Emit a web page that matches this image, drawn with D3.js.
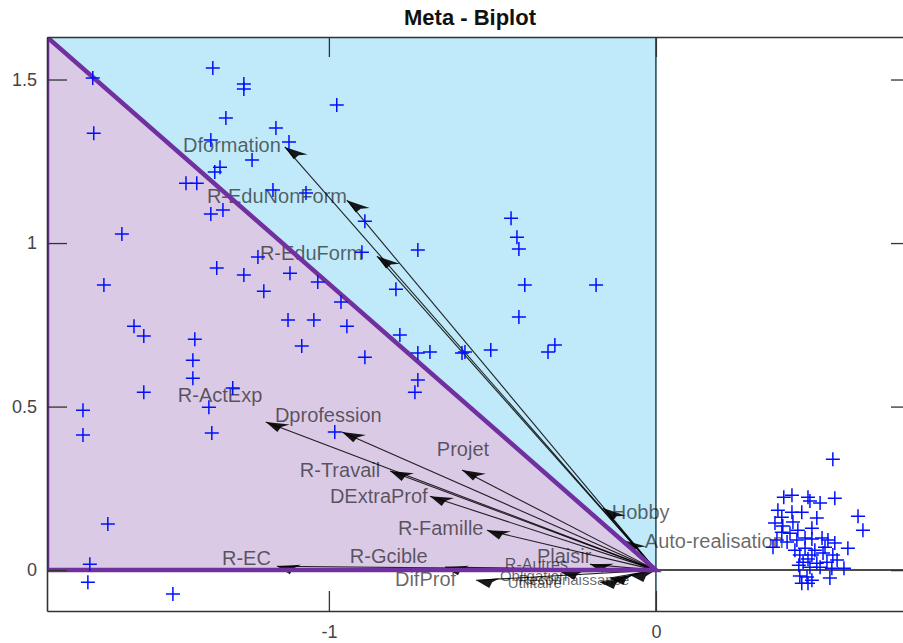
<!DOCTYPE html>
<html>
<head>
<meta charset="utf-8">
<script src="https://cdn.jsdelivr.net/npm/d3@7"></script>
<style>
  body { margin: 0; background: #fff; }
  svg { display: block; font-family: "Liberation Sans", Arial, sans-serif; }
</style>
</head>
<body>
<svg id="chart" width="903" height="643"></svg>
<script>
// variable loadings (arrow tips) and where the labels sit, in data units
const varNames = ['Dformation', 'R-EduNonForm', 'R-EduForm', 'R-ActExp', 'Dprofession',
  'R-Travail', 'DExtraProf', 'R-Famille', 'Projet', 'Hobby', 'Auto-realisation',
  'R-EC', 'R-Gcible', 'DifProf', 'Plaisir', 'R-Autres', 'Obligation', 'Utilitaire', 'Reconnaissance'];
const loadX = [-1.135, -0.945, -0.853, -1.193, -0.960, -0.813, -0.691, -0.517, -0.593, -0.162, -0.101,
  -1.159, -0.645, -0.550, -0.202, -0.290, -0.141, -0.171, -0.080];
const loadY = [1.294, 1.131, 0.960, 0.453, 0.422, 0.303, 0.226, 0.122, 0.306, 0.190, 0.092,
  0.012, 0.009, -0.031, 0.018, -0.006, -0.024, -0.037, -0.015];
const labelX = [-1.446, -1.373, -1.211, -1.462, -1.165, -1.089, -0.997, -0.789, -0.670, -0.135, -0.034,
  -1.327, -0.936, -0.798, -0.364, -0.462, -0.477, -0.453, -0.420];
const labelY = [1.278, 1.122, 0.948, 0.514, 0.453, 0.284, 0.205, 0.107, 0.349, 0.156, 0.067,
  0.015, 0.021, -0.050, 0.021, 0.000, -0.034, -0.055, -0.044];
const labelSize = [20, 20, 20, 20, 20, 20, 20, 20, 20, 20, 20, 20, 20, 20, 20, 16, 15, 15, 15];

// observation scores
const scoreX = [-1.722, -1.355, -1.260, -1.260, -0.976, -1.315, -1.719, -1.162, -1.361, -1.122,
  -1.235, -1.333, -1.349, -1.437, -1.404, -1.171, -1.070, -1.324, -1.361, -0.890,
  -1.633, -0.899, -0.728, -1.217, -1.688, -1.343, -1.260, -1.119, -1.034, -0.795,
  -1.199, -0.963, -1.125, -1.046, -0.945, -1.596, -1.566, -1.410, -1.416, -1.416,
  -1.566, -1.294, -1.367, -1.358, -1.083, -0.890, -0.783, -0.728, -0.737, -0.982,
  -1.676, -1.731, -1.737, -1.477, -1.752, -1.752, -0.443, -0.425, -0.419, -0.401,
  -0.183, -0.419, -0.691, -0.728, -0.593, -0.584, -0.505, -0.309, -0.330,
  0.541, 0.391, 0.416, 0.465, 0.471, 0.502, 0.547, 0.373, 0.416, 0.446,
  0.385, 0.492, 0.618, 0.364, 0.388, 0.419, 0.477, 0.633, 0.385, 0.410,
  0.434, 0.370, 0.401, 0.431, 0.456, 0.477, 0.508, 0.526, 0.547, 0.587,
  0.358, 0.440, 0.477, 0.511, 0.541, 0.450, 0.492, 0.523, 0.554, 0.471,
  0.502, 0.538, 0.575, 0.440, 0.462, 0.477, 0.532, 0.446, 0.465, 0.456,
  0.486, 0.425, 0.517, 0.465, 0.437];
const scoreY = [1.505, 1.535, 1.486, 1.471, 1.422, 1.382, 1.336, 1.352, 1.315, 1.309,
  1.254, 1.232, 1.217, 1.183, 1.183, 1.162, 1.153, 1.101, 1.089, 1.067,
  1.028, 0.972, 0.979, 0.957, 0.872, 0.924, 0.902, 0.908, 0.881, 0.859,
  0.853, 0.820, 0.765, 0.765, 0.746, 0.746, 0.716, 0.706, 0.642, 0.587,
  0.544, 0.557, 0.498, 0.419, 0.685, 0.651, 0.719, 0.581, 0.544, 0.422,
  0.141, 0.018, -0.037, -0.073, 0.489, 0.413, 1.076, 1.018, 0.982, 0.872,
  0.872, 0.774, 0.667, 0.664, 0.664, 0.667, 0.673, 0.688, 0.667,
  0.339, 0.223, 0.229, 0.223, 0.211, 0.205, 0.220, 0.183, 0.177, 0.177,
  0.162, 0.159, 0.165, 0.144, 0.135, 0.147, 0.128, 0.122, 0.116, 0.113,
  0.122, 0.092, 0.086, 0.092, 0.098, 0.095, 0.098, 0.092, 0.083, 0.067,
  0.070, 0.046, 0.046, 0.052, 0.046, 0.024, 0.021, 0.024, 0.031, 0.009,
  0.009, 0.006, 0.006, -0.018, -0.021, -0.031, -0.024, -0.040, -0.040, 0.067,
  0.061, 0.061, 0.070, 0.034, 0.015];

const xTicks = [-1, 0];
const yTicks = [0, 0.5, 1, 1.5];
const xDomain = [-1.862, 0.78];
const yDomain = [-0.125, 1.630];

const svg = d3.select('#chart');
const plot = { left: 47, right: 911, top: 37, bottom: 611 };

const x = d3.scaleLinear().domain(xDomain).range([plot.left, plot.right]);
const y = d3.scaleLinear().domain(yDomain).range([plot.bottom, plot.top]);

svg.append('defs').append('clipPath').attr('id', 'plotClip')
  .append('rect')
  .attr('x', plot.left).attr('y', plot.top)
  .attr('width', plot.right - plot.left).attr('height', plot.bottom - plot.top);

const g = svg.append('g').attr('clip-path', 'url(#plotClip)');

// shaded regions
g.append('rect')
  .attr('x', x(xDomain[0])).attr('y', y(yDomain[1]))
  .attr('width', x(0) - x(xDomain[0])).attr('height', y(0) - y(yDomain[1]))
  .style('fill', '#c0e9f9');

const tri = [[xDomain[0], yDomain[1]], [xDomain[0], 0], [0, 0]];
const line = d3.line().x(d => x(d[0])).y(d => y(d[1]));
g.append('path')
  .attr('d', line(tri) + 'Z')
  .style('fill', '#dbcae6');

// zero lines
g.append('line')
  .attr('x1', x(xDomain[0])).attr('x2', x(xDomain[1]))
  .attr('y1', y(0)).attr('y2', y(0))
  .style('stroke', '#111').style('stroke-width', 1.5);
g.append('line')
  .attr('x1', x(0)).attr('x2', x(0))
  .attr('y1', y(yDomain[0])).attr('y2', y(yDomain[1]))
  .style('stroke', '#1d4655').style('stroke-width', 1.5);

// arrows
const vars = varNames.map((name, i) => ({
  name, vx: loadX[i], vy: loadY[i], lx: labelX[i], ly: labelY[i], size: labelSize[i]
}));

const arrows = g.append('g').attr('class', 'arrows');
vars.forEach(d => {
  const tx = x(d.vx), ty = y(d.vy);
  const ox = x(0), oy = y(0);
  arrows.append('line')
    .attr('x1', ox).attr('y1', oy).attr('x2', tx).attr('y2', ty)
    .style('stroke', '#000').style('stroke-opacity', 0.85).style('stroke-width', 1.1);

  // head: pointing back along the vector, flattened towards horizontal
  const ang = Math.atan2(oy - ty, ox - tx) * 0.45;
  const rot = (px, py) => [tx + px * Math.cos(ang) - py * Math.sin(ang),
                           ty + px * Math.sin(ang) + py * Math.cos(ang)];
  const pts = [rot(0, 0), rot(24, -1.5), rot(16, 2.5), rot(13, 8)];
  arrows.append('path')
    .attr('d', 'M' + pts.map(p => p.join(',')).join('L') + 'Z')
    .style('fill', '#000').style('fill-opacity', 0.9);
});

arrows.selectAll('text.varlabel')
  .data(vars)
  .enter().append('text')
  .attr('class', 'varlabel')
  .attr('x', d => x(d.lx))
  .attr('y', d => y(d.ly))
  .style('font-size', d => d.size + 'px')
  .style('fill', '#000')
  .style('fill-opacity', 0.6)
  .text(d => d.name);

// triangle outline on top of arrows
g.append('path')
  .attr('d', line(tri) + 'Z')
  .style('fill', 'none')
  .style('stroke', '#7030a0')
  .style('stroke-width', 4.5)
  .style('stroke-linejoin', 'miter');

// observations
const scores = scoreX.map((v, i) => ({ sx: v, sy: scoreY[i] }));
g.selectAll('path.obs')
  .data(scores)
  .enter().append('path')
  .attr('class', 'obs')
  .attr('transform', d => `translate(${x(d.sx)},${y(d.sy)})`)
  .attr('d', 'M-7,0H7M0,-7V7')
  .style('stroke', '#0010ff')
  .style('stroke-width', 1.5)
  .style('fill', 'none');

// axes
const fmt = d => String(d);
function styleAxis(sel) {
  sel.select('.domain').style('stroke', '#333').style('stroke-width', 1.6);
  sel.selectAll('.tick line').style('stroke', '#333').style('stroke-width', 1.3);
  sel.selectAll('.tick text')
    .style('font-family', '"Liberation Sans", Arial, sans-serif')
    .style('font-size', '18px')
    .style('fill', '#444');
}

svg.append('g')
  .attr('transform', `translate(${plot.left},0)`)
  .call(d3.axisLeft(y).tickValues(yTicks).tickFormat(fmt).tickSizeInner(-20).tickSizeOuter(0).tickPadding(10))
  .call(styleAxis);

svg.append('g')
  .attr('transform', `translate(${plot.right},0)`)
  .call(d3.axisRight(y).tickValues(yTicks).tickFormat('').tickSizeInner(-20).tickSizeOuter(0))
  .call(styleAxis);

svg.append('g')
  .attr('transform', `translate(0,${plot.bottom})`)
  .call(d3.axisBottom(x).tickValues(xTicks).tickFormat(fmt).tickSizeInner(-20).tickSizeOuter(0).tickPadding(14))
  .call(styleAxis);

svg.append('g')
  .attr('transform', `translate(0,${plot.top})`)
  .call(d3.axisTop(x).tickValues(xTicks).tickFormat('').tickSizeInner(-20).tickSizeOuter(0))
  .call(styleAxis);

svg.append('text')
  .attr('x', 470)
  .attr('y', 25)
  .attr('text-anchor', 'middle')
  .style('font-size', '22px')
  .style('font-weight', 'bold')
  .style('fill', '#111')
  .text('Meta - Biplot');
</script>
</body>
</html>
